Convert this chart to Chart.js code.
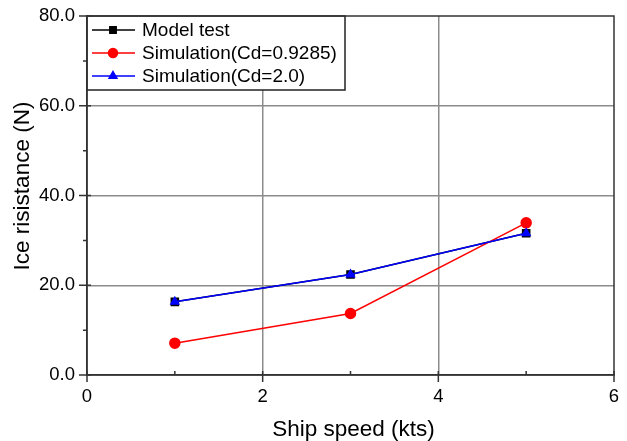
<!DOCTYPE html>
<html>
<head>
<meta charset="utf-8">
<script src="https://cdn.jsdelivr.net/npm/chart.js@4/dist/chart.umd.min.js"></script>
<style>
  html, body { margin: 0; padding: 0; background: #fff; }
  #wrap { width: 627px; height: 441px; }
</style>
</head>
<body>
<div id="wrap"><canvas id="chart" width="627" height="441"></canvas></div>
<script>
const speeds = [1, 3, 5];
const modelTest = [16.3, 22.4, 31.6];
const simCd09285 = [7.1, 13.7, 33.9];
const simCd20 = [16.3, 22.4, 31.6];
const seriesNames = ['Model test', 'Simulation(Cd=0.9285)', 'Simulation(Cd=2.0)'];
const xTitle = 'Ship speed (kts)';
const yTitle = 'Ice risistance (N)';

const FONT = "'Liberation Sans', Arial, sans-serif";
const AXIS = '#333';

const toPoints = vals => speeds.map((x, i) => ({ x, y: vals[i] }));

// legend box drawn inside the plot, top-left, with a frame
const boxLegend = {
  id: 'boxLegend',
  afterDatasetsDraw(chart) {
    const { ctx, chartArea } = chart;
    const left = chartArea.left, top = chartArea.top;
    const w = 258, h = 74;
    ctx.save();
    ctx.fillStyle = '#fff';
    ctx.fillRect(left, top, w, h);
    ctx.strokeStyle = '#222';
    ctx.lineWidth = 1.5;
    ctx.strokeRect(left, top, w, h);
    ctx.font = '19px ' + FONT;
    ctx.textBaseline = 'middle';
    chart.data.datasets.forEach((ds, r) => {
      const y = top + 14 + r * 23;
      ctx.strokeStyle = ds.borderColor;
      ctx.lineWidth = 1.5;
      ctx.beginPath();
      ctx.moveTo(left + 5, y);
      ctx.lineTo(left + 48, y);
      ctx.stroke();
      ctx.fillStyle = ds.pointBackgroundColor;
      ctx.strokeStyle = ds.pointBorderColor;
      Chart.helpers.drawPoint(ctx, {
        pointStyle: ds.pointStyle, radius: 4.5, borderWidth: 1, rotation: 0
      }, left + 26, y);
      ctx.fillStyle = '#000';
      ctx.fillText(ds.label, left + 55, y + 1);
    });
    ctx.restore();
  }
};

// frame, major/minor ticks and axis titles
const frame = {
  id: 'frame',
  afterDraw(chart) {
    const { ctx, chartArea: a, scales } = chart;
    ctx.save();
    ctx.strokeStyle = AXIS;
    ctx.lineWidth = 1.5;
    ctx.strokeRect(a.left, a.top, a.right - a.left, a.bottom - a.top);
    ctx.beginPath();
    scales.x.ticks.forEach(t => {
      const px = scales.x.getPixelForValue(t.value);
      if (t.value % 2 === 0) { ctx.moveTo(px, a.bottom - 4); ctx.lineTo(px, a.bottom + 7); }
      else { ctx.moveTo(px, a.bottom - 4); ctx.lineTo(px, a.bottom); }
    });
    scales.y.ticks.forEach(t => {
      const py = scales.y.getPixelForValue(t.value);
      if (t.value % 20 === 0) { ctx.moveTo(a.left - 8, py); ctx.lineTo(a.left + 4, py); }
      else { ctx.moveTo(a.left - 4, py); ctx.lineTo(a.left, py); }
    });
    ctx.stroke();
    ctx.fillStyle = '#000';
    ctx.font = '22.5px ' + FONT;
    ctx.textAlign = 'center';
    ctx.textBaseline = 'middle';
    ctx.fillText(xTitle, (a.left + a.right) / 2 + 3, 430);
    ctx.translate(23, 186);
    ctx.rotate(-Math.PI / 2);
    ctx.fillText(yTitle, 0, 0);
    ctx.restore();
  }
};

new Chart(document.getElementById('chart'), {
  type: 'line',
  data: {
    datasets: [
      {
        label: seriesNames[0], data: toPoints(modelTest), order: 2,
        borderColor: '#000', backgroundColor: '#000',
        pointBackgroundColor: '#000', pointBorderColor: '#000',
        pointStyle: 'rect', pointRadius: 5, borderWidth: 1.5
      },
      {
        label: seriesNames[1], data: toPoints(simCd09285), order: 1,
        borderColor: '#ff0000', backgroundColor: '#ff0000',
        pointBackgroundColor: '#ff0000', pointBorderColor: '#ff0000',
        pointStyle: 'circle', pointRadius: 5, borderWidth: 1.5
      },
      {
        label: seriesNames[2], data: toPoints(simCd20), order: 0,
        borderColor: '#0000ff', backgroundColor: '#0000ff',
        pointBackgroundColor: '#0000ff', pointBorderColor: '#0000ff',
        pointStyle: 'triangle', pointRadius: 4.5, borderWidth: 1.5
      }
    ]
  },
  options: {
    responsive: false,
    animation: false,
    layout: { padding: { top: 16, right: 13, left: 0, bottom: 0 } },
    plugins: { legend: { display: false }, tooltip: { enabled: false } },
    scales: {
      x: {
        type: 'linear', min: 0, max: 6,
        afterFit: s => { s.height = 66; s.paddingLeft = 0; s.paddingRight = 0; },
        ticks: {
          stepSize: 1, color: '#000', padding: 11,
          font: { family: FONT, size: 18.5 },
          maxRotation: 0,
          callback: v => (v % 2 === 0 ? String(v) : '')
        },
        grid: {
          color: c => (c.tick && c.tick.value % 2 === 0 && c.tick.value > 0 && c.tick.value < 6) ? '#8c8c8c' : 'rgba(0,0,0,0)',
          drawTicks: false, lineWidth: 1.5
        },
        border: { color: AXIS, width: 1.5 }
      },
      y: {
        min: 0, max: 80,
        afterFit: s => { s.width = 87; s.paddingTop = 0; s.paddingBottom = 0; },
        ticks: {
          stepSize: 10, color: '#000', padding: 12,
          font: { family: FONT, size: 18.5 },
          callback: v => (v % 20 === 0 ? v.toFixed(1) : '')
        },
        grid: {
          color: c => (c.tick && c.tick.value % 20 === 0 && c.tick.value > 0 && c.tick.value < 80) ? '#8c8c8c' : 'rgba(0,0,0,0)',
          drawTicks: false, lineWidth: 1.5
        },
        border: { color: AXIS, width: 1.5 }
      }
    }
  },
  plugins: [boxLegend, frame]
});
</script>
</body>
</html>
